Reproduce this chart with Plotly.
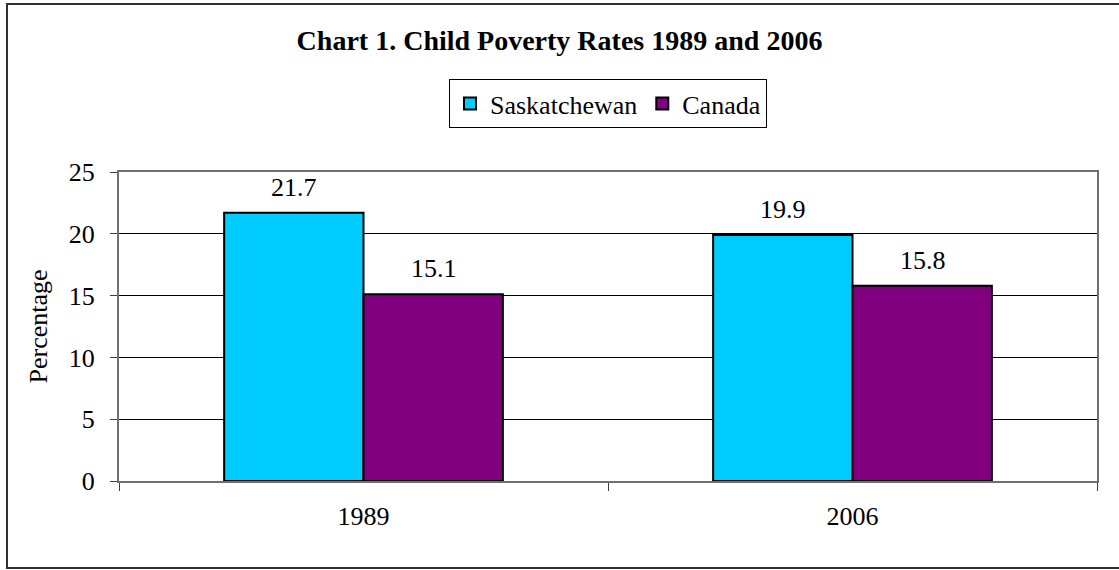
import plotly.graph_objects as go

categories = ["1989", "2006"]
series_names = ["Saskatchewan", "Canada"]
sask_values = [21.7, 19.9]
canada_values = [15.1, 15.8]
colors = ["#00CCFF", "#800080"]

FONT = "Liberation Serif, Times New Roman, serif"
FS = 26

fig = go.Figure()
for name, vals, col in zip(series_names, [sask_values, canada_values], colors):
    fig.add_trace(go.Bar(
        x=categories, y=vals, name=name,
        marker=dict(color=col, line=dict(color="black", width=2)),
    ))

# data labels above bars (x given as category index on the category axis)
offsets = [-70, 70]
for vals, xs in zip([sask_values, canada_values], offsets):
    for i, v in enumerate(vals):
        fig.add_annotation(x=i, y=v, xref="x", yref="y", text=f"{v:.1f}",
                           showarrow=False, xshift=xs, yshift=9, yanchor="bottom",
                           font=dict(family=FONT, size=FS, color="black"))

fig.update_layout(
    width=1119, height=570,
    margin=dict(l=119, r=22, t=172, b=89),
    paper_bgcolor="white", plot_bgcolor="white",
    barmode="group", bargap=0.43, bargroupgap=0,
    font=dict(family=FONT, size=FS, color="black"),
    title=dict(text="<b>Chart 1. Child Poverty Rates 1989 and 2006</b>",
               x=0.5, xref="container", xanchor="center",
               y=1 - 40 / 570, yref="container", yanchor="middle",
               font=dict(family=FONT, size=28, color="black")),
    legend=dict(orientation="h", x=0.5, xanchor="center", y=(481 - 79) / 309, yanchor="top",
                bordercolor="black", borderwidth=1, bgcolor="white",
                font=dict(family=FONT, size=FS), itemwidth=30,
                traceorder="normal"),
    showlegend=True,
)

fig.update_yaxes(range=[0, 25], dtick=5, tick0=0,
                 showgrid=True, gridcolor="black", gridwidth=1,
                 showline=True, linecolor="#707070", linewidth=2, mirror=True,
                 ticks="outside", ticklen=7, tickcolor="#404040",
                 ticklabelstandoff=10, zeroline=False,
                 title=dict(text="Percentage", font=dict(family=FONT, size=FS), standoff=14),
                 tickfont=dict(family=FONT, size=FS))
fig.update_xaxes(type="category", categoryorder="array", categoryarray=categories,
                 range=[-0.5, len(categories) - 0.5],
                 showline=True, linecolor="#707070", linewidth=2, mirror=True,
                 ticks="outside", ticklen=8, tickcolor="#404040", tickson="boundaries",
                 ticklabelstandoff=11,
                 tickfont=dict(family=FONT, size=FS))

# outer chart border
fig.add_shape(type="rect", xref="paper", yref="paper",
              x0=(7 - 119) / 978, x1=1.04, y0=(481 - 568) / 309, y1=(481 - 4) / 309,
              line=dict(color="#303030", width=2), layer="below")

fig.write_html("out.html", config={"displayModeBar": False},
               post_script="document.body.style.margin='0';")
